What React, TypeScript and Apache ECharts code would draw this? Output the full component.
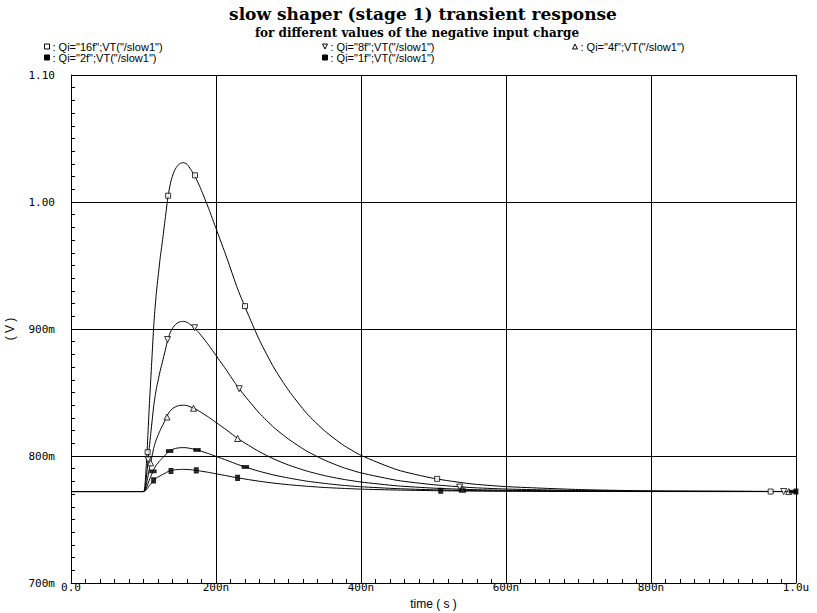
import React, { useEffect, useRef } from "react";
import * as echarts from "echarts";

// time axis in ns
const T = [0, 100, 102, 104, 106, 108, 110, 112, 114, 116, 118, 120, 123, 126, 130, 134, 138, 142, 146, 150, 155, 160, 165, 170, 175, 180, 190, 200, 215, 230, 245, 260, 280, 300, 325, 350, 375, 400, 450, 500, 550, 600, 700, 800, 900, 1000];

const V16 = [0.772, 0.772, 0.7772, 0.794, 0.816, 0.8393, 0.8601, 0.8808, 0.9015, 0.917, 0.93, 0.9404, 0.9559, 0.9688, 0.987, 1.0051, 1.0168, 1.0237, 1.0279, 1.0302, 1.031, 1.0297, 1.0258, 1.0212, 1.0155, 1.009, 0.9947, 0.9792, 0.9559, 0.9313, 0.9106, 0.8911, 0.8694, 0.8518, 0.8336, 0.8197, 0.8088, 0.8005, 0.7891, 0.7824, 0.7782, 0.7759, 0.7736, 0.7725, 0.7723, 0.772];
const V8 = [0.772, 0.772, 0.7747, 0.7834, 0.7948, 0.8068, 0.8176, 0.8283, 0.839, 0.847, 0.8537, 0.8591, 0.8671, 0.8738, 0.8832, 0.8926, 0.8986, 0.9022, 0.9044, 0.9056, 0.906, 0.9053, 0.9033, 0.9009, 0.898, 0.8946, 0.8872, 0.8792, 0.8671, 0.8544, 0.8437, 0.8336, 0.8224, 0.8133, 0.8039, 0.7967, 0.791, 0.7867, 0.7808, 0.7774, 0.7752, 0.774, 0.7728, 0.7723, 0.7721, 0.772];
const V4 = [0.772, 0.772, 0.7734, 0.7778, 0.7836, 0.7897, 0.7951, 0.8006, 0.806, 0.8101, 0.8135, 0.8162, 0.8203, 0.8237, 0.8284, 0.8332, 0.8363, 0.8381, 0.8392, 0.8398, 0.84, 0.8397, 0.8386, 0.8374, 0.8359, 0.8342, 0.8305, 0.8264, 0.8203, 0.8138, 0.8084, 0.8033, 0.7976, 0.7929, 0.7882, 0.7845, 0.7817, 0.7795, 0.7765, 0.7747, 0.7736, 0.773, 0.7724, 0.7721, 0.7721, 0.772];
const V2 = [0.772, 0.772, 0.7727, 0.7749, 0.7779, 0.781, 0.7838, 0.7865, 0.7893, 0.7914, 0.7931, 0.7945, 0.7966, 0.7983, 0.8007, 0.8031, 0.8047, 0.8056, 0.8062, 0.8065, 0.8066, 0.8064, 0.8059, 0.8053, 0.8045, 0.8037, 0.8018, 0.7997, 0.7966, 0.7933, 0.7905, 0.7879, 0.785, 0.7827, 0.7802, 0.7784, 0.7769, 0.7758, 0.7743, 0.7734, 0.7728, 0.7725, 0.7722, 0.7721, 0.772, 0.772];
const V1 = [0.772, 0.772, 0.7724, 0.7735, 0.775, 0.7766, 0.778, 0.7794, 0.7808, 0.7818, 0.7827, 0.7834, 0.7844, 0.7853, 0.7865, 0.7878, 0.7885, 0.789, 0.7893, 0.7894, 0.7895, 0.7894, 0.7892, 0.7888, 0.7885, 0.788, 0.7871, 0.786, 0.7844, 0.7828, 0.7814, 0.7801, 0.7786, 0.7774, 0.7762, 0.7752, 0.7745, 0.7739, 0.7732, 0.7727, 0.7724, 0.7723, 0.7721, 0.772, 0.772, 0.772];

// marker positions [t(ns), V]
const M16 = [[105.7, 0.803], [134, 1.005], [171, 1.021], [240, 0.918], [505, 0.782], [965, 0.772]];
const M8 = [[106.3, 0.797], [133.2, 0.8917], [170.5, 0.901], [232, 0.853], [536, 0.7755], [983, 0.772]];
const M4 = [[109.8, 0.7946], [132.4, 0.8307], [169, 0.8376], [229.8, 0.8138], [540, 0.7738], [990, 0.772]];
const M2 = [[113, 0.7879], [136, 0.8039], [173.8, 0.8048], [240.4, 0.7914], [540, 0.773], [995, 0.772]];
const M1 = [[114, 0.7808], [137.9, 0.7882], [172.8, 0.7887], [229.8, 0.7828], [510, 0.7726], [1000, 0.772]];

const NAMES = ['Qi="16f";VT("/slow1")', 'Qi="8f";VT("/slow1")', 'Qi="4f";VT("/slow1")', 'Qi="2f";VT("/slow1")', 'Qi="1f";VT("/slow1")'];

const X_TICK_LABELS = ["0.0", "200n", "400n", "600n", "800n", "1.0u"];
const Y_TICK_LABELS = ["700m", "800m", "900m", "1.00", "1.10"];

const TITLE = "slow shaper (stage 1) transient response";
const SUBTITLE = "for different values of the negative input charge";

const DOWN_TRI = "path://M0,0L10,0L5,10Z";
const UP_TRI = "path://M5,0L10,10L0,10Z";

export default function App() {
  const ref = useRef<HTMLDivElement>(null);
  useEffect(() => {
    if (!ref.current) return;
    const chart = echarts.init(ref.current, null, { renderer: "svg" });
    const values = [V16, V8, V4, V2, V1];
    const markers = [M16, M8, M4, M2, M1];
    const symbols: any[] = [
      { symbol: "rect", size: 5, fill: "#fff" },
      { symbol: DOWN_TRI, size: 6, fill: "#fff" },
      { symbol: UP_TRI, size: 6, fill: "#fff" },
      { symbol: "rect", size: [6, 3], fill: "#000" },
      { symbol: "rect", size: [4, 5], fill: "#000" },
    ];
    const legendPos = [
      [44, 41],
      [322, 41],
      [572, 41],
      [44, 52],
      [322, 52],
    ];
    const labelFont = "DejaVu Sans Mono";
    const legendFont = "'Liberation Sans Narrow', 'Liberation Sans', sans-serif";

    const series: any[] = [];
    NAMES.forEach((name, i) => {
      series.push({
        name,
        type: "line",
        data: T.map((t, k) => [t, values[i][k]]),
        showSymbol: false,
        symbol: "none",
        smooth: 0.2,
        lineStyle: { color: "#000", width: 1 },
        itemStyle: { color: "#000" },
        z: 3,
      });
      series.push({
        name,
        type: "scatter",
        data: markers[i],
        symbol: symbols[i].symbol,
        symbolSize: symbols[i].size,
        itemStyle: { color: symbols[i].fill, borderColor: "#000", borderWidth: 1 },
        z: 4,
      });
    });

    const legends = NAMES.map((name, i) => ({
      data: [{ name, icon: symbols[i].symbol }],
      left: legendPos[i][0],
      top: legendPos[i][1],
      padding: 0,
      itemWidth: 5,
      itemHeight: 5,
      itemGap: 0,
      selectedMode: false,
      formatter: ": {name}",
      itemStyle: { color: symbols[i].fill, borderColor: "#000", borderWidth: 1 },
      textStyle: { fontFamily: legendFont, fontSize: 11, color: "#000", padding: [0, 0, 0, -2] },
    }));

    chart.setOption({
      animation: false,
      backgroundColor: "#fff",
      legend: legends,
      graphic: [
        {
          type: "text",
          x: 423,
          y: 14,
          style: {
            text: TITLE,
            fontFamily: "'DejaVu Serif', serif",
            fontWeight: "bold",
            fontSize: 17,
            fill: "#000",
            textAlign: "center",
            textVerticalAlign: "middle",
          },
        },
        {
          type: "text",
          x: 417,
          y: 33,
          style: {
            text: SUBTITLE,
            fontFamily: "'DejaVu Serif', serif",
            fontWeight: "bold",
            fontSize: 12,
            fill: "#000",
            textAlign: "center",
            textVerticalAlign: "middle",
          },
        },
      ],
      grid: { left: 71, right: 21, top: 75, bottom: 30, containLabel: false, outerBoundsMode: "none" },
      xAxis: {
        type: "value",
        min: 0,
        max: 1000,
        interval: 200,
        name: "time ( s )",
        nameLocation: "middle",
        nameGap: 11,
        nameTextStyle: { fontFamily: legendFont, fontSize: 12, color: "#000" },
        axisLine: { show: true, lineStyle: { color: "#000", width: 1 } },
        axisTick: { show: true, inside: true, length: 5, lineStyle: { color: "#000" } },
        minorTick: { show: true, splitNumber: 10, length: 4, lineStyle: { color: "#000" } },
        splitLine: { show: true, lineStyle: { color: "#000", width: 1 } },
        axisLabel: {
          margin: -1,
          fontFamily: labelFont,
          fontSize: 11,
          color: "#000",
          formatter: (v: number) => X_TICK_LABELS[Math.round(v / 200)] ?? "",
        },
      },
      yAxis: {
        type: "value",
        min: 0.7,
        max: 1.1,
        interval: 0.1,
        name: "( V )",
        nameLocation: "middle",
        nameGap: 55,
        nameRotate: 90,
        nameTextStyle: { fontFamily: legendFont, fontSize: 12, color: "#000" },
        axisLine: { show: true, lineStyle: { color: "#000", width: 1 } },
        axisTick: { show: true, inside: true, length: 5, lineStyle: { color: "#000" } },
        minorTick: { show: true, splitNumber: 10, length: 4, lineStyle: { color: "#000" } },
        splitLine: { show: true, lineStyle: { color: "#000", width: 1 } },
        axisLabel: {
          margin: 16,
          fontFamily: labelFont,
          fontSize: 11,
          color: "#000",
          formatter: (v: number) => Y_TICK_LABELS[Math.round((v - 0.7) / 0.1)] ?? "",
        },
      },
      series,
    });
    return () => chart.dispose();
  }, []);
  return (
    <div
      ref={ref}
      style={{ position: "fixed", left: 0, top: 0, width: 817, height: 613 }}
    />
  );
}
